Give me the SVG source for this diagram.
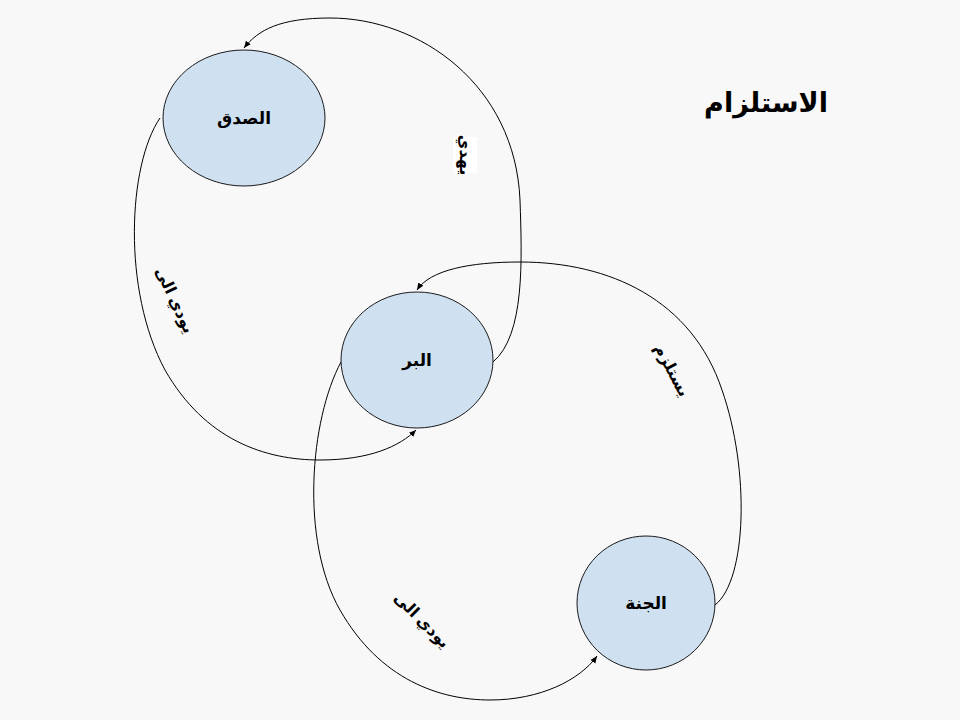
<svg xmlns="http://www.w3.org/2000/svg" width="960" height="720" viewBox="0 0 960 720">
<style>
.node{fill:#cfe0f1;stroke:#1a1a1a;stroke-width:1}
.lbl{font-family:"Liberation Sans","DejaVu Sans",sans-serif;font-weight:bold;font-size:17px;fill:#000;text-anchor:middle;dominant-baseline:central}
.edge{fill:none;stroke:#000;stroke-width:1;marker-end:url(#arr)}
.elbl{font-family:"Liberation Sans","DejaVu Sans",sans-serif;font-weight:bold;font-size:16px;fill:#000;text-anchor:middle;dominant-baseline:central}
</style>
<defs>
<marker id="arr" markerWidth="8" markerHeight="8" refX="7" refY="4" orient="auto" markerUnits="userSpaceOnUse">
<path d="M0,1 L7,4 L0,7 Z" fill="#000"/>
</marker>
</defs>
<rect width="960" height="720" fill="#f8f8f8"/>
<text x="766" y="103" font-family="'Liberation Sans','DejaVu Sans',sans-serif" font-weight="bold" font-size="27" text-anchor="middle" dominant-baseline="central">الاستلزام</text>
<g id="connectors">
<path class="edge" d="M493,362 C525,335 522,260 520,200 C515,85 420,18 330,18 C280,18 258,30 244,48"/>
<path class="edge" d="M160,118 C128,165 122,290 165,370 C205,440 265,460 320,460 C370,460 400,446 416,430"/>
<path class="edge" d="M341,362 C310,420 300,540 340,610 C380,680 440,700 490,700 C540,700 580,680 597,656"/>
<path class="edge" d="M715,605 C747,580 750,470 722,390 C692,300 610,262 520,262 C470,262 430,270 417,290"/>
<g transform="translate(175,300) rotate(65)"><text class="elbl" x="0" y="0">يودي الى</text></g>
<g transform="translate(422,620) rotate(45)"><text class="elbl" x="0" y="0">يودي الى</text></g>
<g transform="translate(672,370) rotate(62)"><text class="elbl" x="0" y="0">يستلزم</text></g>
<g transform="translate(465,155) rotate(90)"><rect x="-18" y="-12" width="36" height="24" fill="#fff"/><text class="elbl" x="0" y="0">يهدي</text></g>
</g>
<g id="n-sidq"><ellipse class="node" cx="244" cy="118" rx="81" ry="68"/><text class="lbl" x="244" y="118">الصدق</text></g>
<g id="n-birr"><ellipse class="node" cx="417" cy="360" rx="76" ry="68"/><text class="lbl" x="417" y="360">البر</text></g>
<g id="n-janna"><ellipse class="node" cx="646" cy="603" rx="69" ry="67"/><text class="lbl" x="646" y="603">الجنة</text></g>
</svg>
